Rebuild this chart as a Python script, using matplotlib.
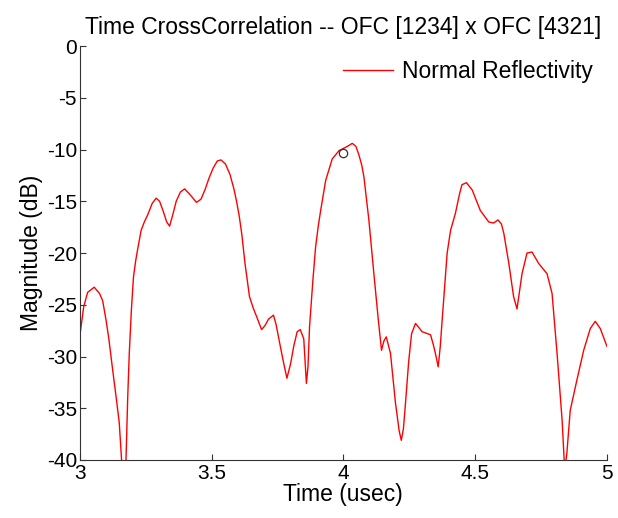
import matplotlib.pyplot as plt

plt.rcParams['font.family'] = ['Liberation Sans', 'DejaVu Sans']
plt.rcParams['axes.unicode_minus'] = False

# Cross-correlation magnitude trace
time_us = [3.000, 3.015, 3.030, 3.055, 3.075, 3.087, 3.100, 3.110, 3.125, 3.140,
           3.150, 3.160, 3.166, 3.175, 3.182, 3.188, 3.196, 3.204, 3.212, 3.220,
           3.233, 3.245, 3.258, 3.275, 3.290, 3.303, 3.316, 3.330, 3.341, 3.353,
           3.366, 3.382, 3.398, 3.420, 3.443, 3.460, 3.475, 3.490, 3.506, 3.522,
           3.536, 3.553, 3.570, 3.585, 3.595, 3.605, 3.615, 3.627, 3.644, 3.658,
           3.672, 3.690, 3.703, 3.716, 3.735, 3.745, 3.754, 3.771, 3.786, 3.800,
           3.812, 3.825, 3.837, 3.850, 3.860, 3.866, 3.872, 3.885, 3.895, 3.905,
           3.914, 3.933, 3.958, 3.984, 4.015, 4.034, 4.048, 4.059, 4.070, 4.078,
           4.097, 4.116, 4.133, 4.145, 4.154, 4.163, 4.179, 4.198, 4.212, 4.220,
           4.228, 4.236, 4.248, 4.259, 4.274, 4.299, 4.320, 4.331, 4.343, 4.352,
           4.360, 4.368, 4.375, 4.394, 4.407, 4.425, 4.440, 4.450, 4.467, 4.489,
           4.520, 4.552, 4.570, 4.587, 4.600, 4.609, 4.628, 4.646, 4.659, 4.668,
           4.678, 4.697, 4.716, 4.741, 4.773, 4.792, 4.811, 4.830, 4.840, 4.848,
           4.861, 4.886, 4.912, 4.937, 4.956, 4.975, 5.000]
magnitude_db = [-28.1, -25.2, -23.8, -23.3, -23.9, -24.6, -26.5, -28.2, -31.3, -34.3,
                -36.4, -40.5, -44.0, -40.5, -34.0, -29.7, -25.5, -22.3, -20.8, -19.6,
                -17.8, -17.0, -16.3, -15.2, -14.7, -15.0, -15.9, -17.0, -17.4, -16.3,
                -15.0, -14.1, -13.8, -14.4, -15.1, -14.8, -13.9, -12.8, -11.8, -11.1,
                -11.0, -11.4, -12.4, -13.8, -15.0, -16.4, -18.2, -21.0, -24.2, -25.3,
                -26.2, -27.4, -27.0, -26.4, -26.0, -26.9, -28.1, -30.3, -32.1, -30.7,
                -29.0, -27.6, -27.4, -28.3, -32.6, -31.0, -27.1, -22.5, -19.4, -17.4,
                -15.9, -13.0, -10.9, -10.1, -9.7, -9.4, -9.7, -10.5, -11.5, -12.6,
                -16.8, -22.0, -26.5, -29.4, -28.5, -28.1, -29.7, -34.5, -37.2, -38.1,
                -37.0, -34.5, -30.5, -27.8, -26.8, -27.6, -27.8, -27.9, -29.0, -30.0,
                -31.0, -29.0, -26.5, -20.0, -17.8, -16.2, -14.4, -13.4, -13.2, -13.9,
                -15.9, -17.0, -17.1, -16.8, -17.2, -18.1, -21.0, -24.2, -25.4, -23.8,
                -22.0, -20.0, -19.9, -21.0, -22.0, -23.9, -29.7, -36.1, -41.0, -39.4,
                -35.2, -32.3, -29.4, -27.3, -26.6, -27.3, -29.0]

marker_t = [4.0]
marker_db = [-10.3]

fig = plt.figure(figsize=(6.18, 5.18), dpi=100)
ax = fig.add_axes([0.129, 0.112, 0.853, 0.799])

ax.plot(time_us, magnitude_db, color='red', linewidth=1.0, label='Normal Reflectivity')
ax.plot(marker_t, marker_db, 'o', mfc='none', mec='#333333', markersize=6, mew=0.9)

ax.set_xlim(3, 5)
ax.set_ylim(-40, 0)
ax.set_xticks([3, 3.5, 4, 4.5, 5])
ax.set_xticklabels(['3', '3.5', '4', '4.5', '5'])
ax.set_yticks(range(-40, 1, 5))

ax.spines['top'].set_visible(False)
ax.spines['right'].set_visible(False)
ax.spines['left'].set_color('#333333')
ax.spines['bottom'].set_color('#333333')
ax.tick_params(direction='in', labelsize=15, length=4, colors='#333333',
               labelcolor='black')
ax.tick_params(axis='x', pad=3)
ax.tick_params(axis='y', pad=2)

ax.set_title('Time CrossCorrelation -- OFC [1234] x OFC [4321]', fontsize=16.5, pad=9)
ax.set_xlabel('Time (usec)', fontsize=16.5, labelpad=0)
ax.set_ylabel('Magnitude (dB)', fontsize=16.5, labelpad=3)

ax.legend(loc='upper right', frameon=False, fontsize=16.5, handlelength=2.2,
          handletextpad=0.4, borderaxespad=0.2)

fig.savefig('out.png', dpi=100)
